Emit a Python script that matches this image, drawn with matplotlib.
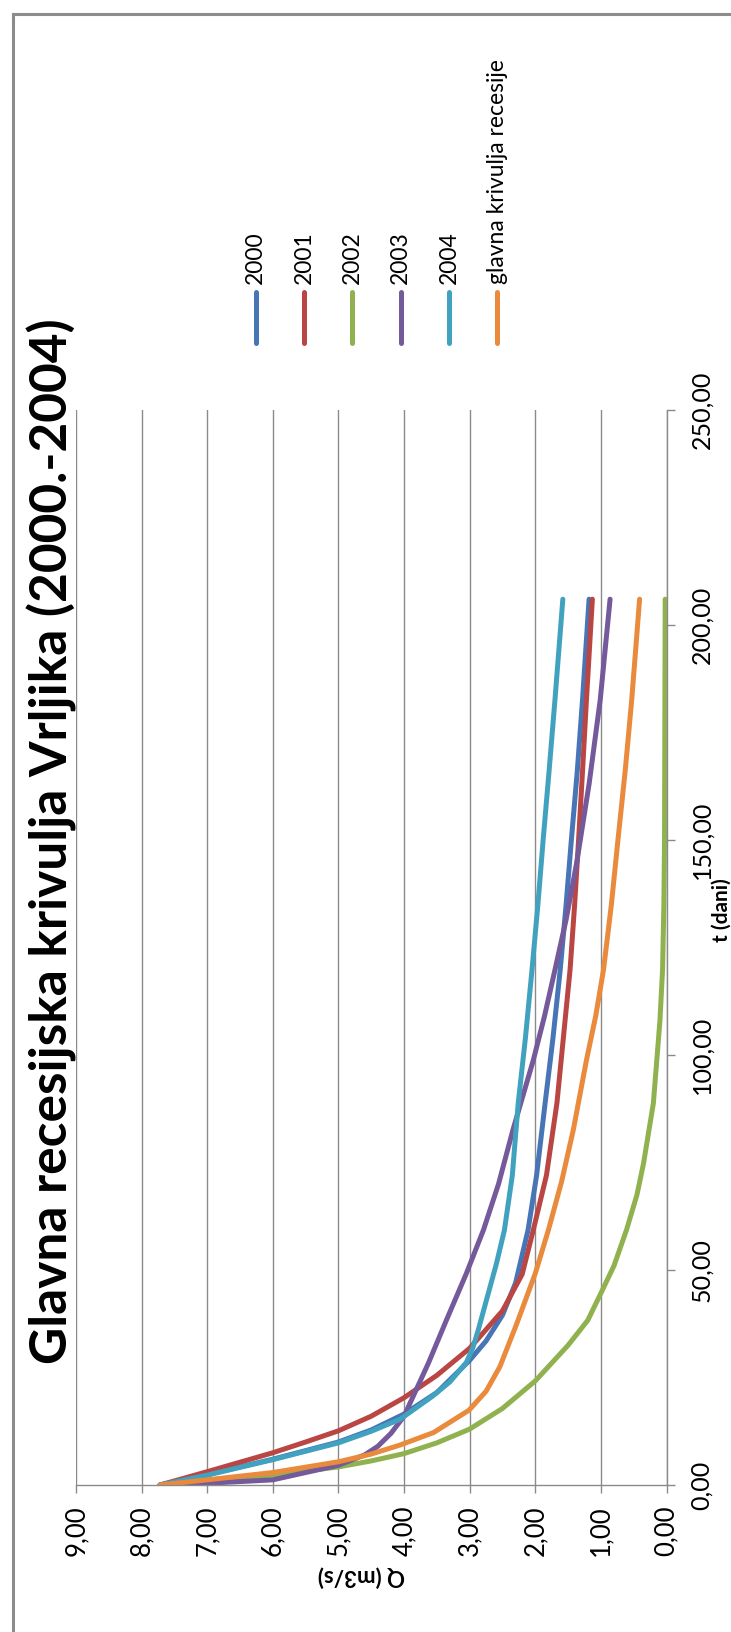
# -*- coding: utf-8 -*-
"""
Glavna recesijska krivulja Vrljika (2000.-2004)
Excel-style chart, drawn rotated 90 deg (t axis vertical, Q axis horizontal).
"""
import matplotlib
matplotlib.use("Agg")
import matplotlib.pyplot as plt
from matplotlib.lines import Line2D

plt.rcParams["font.family"] = ["Lato", "DejaVu Sans"]

# ---------------------------------------------------------------------------
# data: t (dani) and Q (m3/s) per series
# ---------------------------------------------------------------------------
t_2000 = [0, 2.4, 6.0, 10.0, 12.8, 16.5, 21.5, 29.0, 33.5, 39.5, 47.0, 59.3, 72.0, 88.8,
          104.0, 119.8, 135.0, 150.0, 166.0, 182.6, 206.0]
q_2000 = [7.72, 7.00, 6.00, 5.00, 4.50, 4.00, 3.50, 3.00, 2.75, 2.50, 2.30, 2.11, 1.98, 1.85,
          1.73, 1.62, 1.53, 1.45, 1.36, 1.28, 1.18]

t_2001 = [0, 3.1, 7.5, 10.0, 12.6, 16.0, 20.3, 25.5, 31.8, 40.5, 49.0, 59.3, 72.0, 88.8,
          104.3, 119.8, 135.0, 150.0, 166.0, 182.6, 206.0]
q_2001 = [7.72, 7.00, 6.00, 5.50, 5.00, 4.50, 4.00, 3.50, 3.00, 2.50, 2.20, 2.03, 1.83, 1.67,
          1.57, 1.47, 1.40, 1.34, 1.28, 1.22, 1.13]

t_2002 = [0, 1.0, 2.3, 4.2, 5.6, 7.3, 9.8, 13.0, 17.8, 24.2, 32.5, 38.3, 44.6, 51.0, 59.3,
          67.5, 74.8, 88.8, 108.0, 119.8, 135.0, 150.0, 206.0]
q_2002 = [7.72, 7.00, 6.00, 5.00, 4.50, 4.00, 3.50, 3.00, 2.50, 2.00, 1.50, 1.20, 1.00, 0.80, 0.61,
          0.45, 0.35, 0.20, 0.10, 0.06, 0.04, 0.03, 0.02]

t_2003 = [0, 0.4, 1.2, 4.6, 7.0, 9.0, 12.0, 16.0, 28.3, 38.5, 49.2, 59.3, 70.0, 82.6, 98.8,
          109.0, 119.8, 131.5, 144.6, 163.0, 182.6, 206.0]
q_2003 = [7.72, 7.00, 6.00, 5.00, 4.60, 4.40, 4.20, 4.00, 3.63, 3.35, 3.05, 2.79, 2.56, 2.34, 2.03,
          1.86, 1.70, 1.53, 1.37, 1.18, 1.01, 0.86]

t_2004 = [0, 2.3, 5.9, 9.8, 12.5, 15.3, 20.5, 24.0, 28.5, 32.0, 36.0, 43.8, 51.6, 59.3, 72.0,
          88.8, 104.0, 119.8, 135.0, 150.0, 166.0, 182.6, 206.0]
q_2004 = [7.72, 7.00, 6.00, 5.00, 4.50, 4.06, 3.58, 3.30, 3.05, 2.95, 2.87, 2.73, 2.59, 2.47, 2.35,
          2.26, 2.15, 2.05, 1.96, 1.88, 1.79, 1.70, 1.58]

t_glavna = [0, 1.2, 2.9, 5.4, 7.2, 9.3, 12.2, 17.4, 21.8, 27.5, 37.6, 49.2, 59.3, 70.5, 82.6,
            98.8, 109.0, 119.8, 135.0, 150.0, 166.0, 182.6, 206.0]
q_glavna = [7.72, 7.00, 6.00, 5.00, 4.50, 4.06, 3.55, 3.01, 2.75, 2.54, 2.28, 2.00, 1.80, 1.60, 1.42,
            1.22, 1.08, 0.96, 0.84, 0.74, 0.63, 0.53, 0.41]

names = ["2000", "2001", "2002", "2003", "2004", "glavna krivulja recesije"]
t_all = [t_2000, t_2001, t_2002, t_2003, t_2004, t_glavna]
q_all = [q_2000, q_2001, q_2002, q_2003, q_2004, q_glavna]
colors = ["#4775b5", "#b94643", "#8fb24f", "#74599b", "#41a2bf", "#e98a3c"]

q_ticks = [9, 8, 7, 6, 5, 4, 3, 2, 1, 0]
t_ticks = [0, 50, 100, 150, 200, 250]

title = "Glavna recesijska krivulja Vrljika (2000.-2004)"
GRID = "#8a8a8a"

# ---------------------------------------------------------------------------
W, H = 731, 1632
fig = plt.figure(figsize=(W / 100, H / 100), dpi=100)
ax = fig.add_axes([76 / W, 1 - 1485 / H, (666.5 - 76) / W, (1485 - 410) / H])

for t, q, c in zip(t_all, q_all, colors):
    ax.plot(q, t, color=c, lw=3.6, solid_capstyle="round", solid_joinstyle="round")

ax.set_xlim(9, 0)
ax.set_ylim(0, 250)
ax.set_xticks(q_ticks)
ax.set_xticklabels([f"{v:.2f}".replace(".", ",") for v in q_ticks])
ax.set_yticks(t_ticks)
ax.set_yticklabels([f"{v:.2f}".replace(".", ",") for v in t_ticks])
ax.xaxis.grid(True, color=GRID, lw=1.0)
ax.set_axisbelow(True)
ax.yaxis.tick_right()
for s in ["left", "top"]:
    ax.spines[s].set_visible(False)
for s in ["bottom", "right"]:
    ax.spines[s].set_color(GRID)
    ax.spines[s].set_linewidth(1.0)
ax.tick_params(axis="x", direction="out", length=6, width=1, color=GRID, pad=9,
               labelrotation=90, labelsize=18.5)
ax.tick_params(axis="y", direction="out", length=6, width=1, color=GRID, pad=11,
               labelrotation=90, labelsize=18)
for lab in ax.get_yticklabels():
    lab.set_verticalalignment("center")

# axis titles
fig.text(361 / W, 1 - 1576 / H, "Q (m3/s)", rotation=180, fontsize=16, fontweight="bold",
         ha="center", va="center")
fig.text(722 / W, 1 - 910 / H, "t (dani)", rotation=90, fontsize=15, fontweight="bold",
         ha="center", va="center")

# chart title
fig.text(52 / W, 1 - 841 / H, title, rotation=90, fontsize=37, fontweight="bold",
         ha="center", va="center")

# legend (rotated, entries side by side)
for i, (name, c) in enumerate(zip(names, colors)):
    x = (255.7 + 48.3 * i) / W
    fig.add_artist(Line2D([x, x], [1 - 343 / H, 1 - 292 / H], transform=fig.transFigure,
                          color=c, lw=3.6, solid_capstyle="round"))
    fig.text(x, 1 - 284 / H, name, rotation=90, fontsize=16.5, ha="center", va="bottom")

# chart border (left and top edges visible)
fig.add_artist(Line2D([12.5 / W, 12.5 / W], [0, 1 - 14 / H], transform=fig.transFigure,
                      color="#8c8c8c", lw=2.2))
fig.add_artist(Line2D([12.5 / W, 1], [1 - 14 / H, 1 - 14 / H], transform=fig.transFigure,
                      color="#8c8c8c", lw=2.2))

fig.savefig("out.png", dpi=100)
